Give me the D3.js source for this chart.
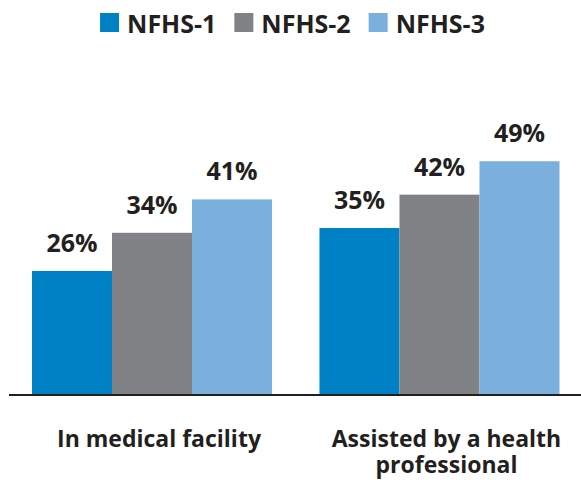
<!DOCTYPE html>
<html>
<head>
<meta charset="utf-8">
<script src="https://cdn.jsdelivr.net/npm/d3@7"></script>
<style>
  html, body { margin: 0; padding: 0; background: #fff; }
  svg { display: block; }
  text { font-family: "Open Sans", "Noto Sans", sans-serif; font-weight: 700; fill: #231f20; }
</style>
</head>
<body>
<svg id="chart" width="581" height="485"></svg>
<script>
const categories = ["In medical facility", "Assisted by a health professional"];
const categoryLines = [["In medical facility"], ["Assisted by a health", "professional"]];
const seriesNames = ["NFHS-1", "NFHS-2", "NFHS-3"];
const seriesColors = ["#0081c6", "#818285", "#7bafdd"];
const nfhs1 = [26, 35];
const nfhs2 = [34, 42];
const nfhs3 = [41, 49];
const seriesValues = [nfhs1, nfhs2, nfhs3];

const W = 581, H = 485;
const baseY = 395;
const svg = d3.select("#chart");

const x0 = d3.scaleBand().domain(categories).range([32, 559.5]).paddingInner(0.165).paddingOuter(0);
const x1 = d3.scaleBand().domain(seriesNames).range([0, x0.bandwidth()]).padding(0);
const y = d3.scaleLinear().domain([0, 82.8]).range([baseY, 0]);
const color = d3.scaleOrdinal().domain(seriesNames).range(seriesColors);

const rows = [];
categories.forEach((c, ci) => {
  seriesNames.forEach((s, si) => rows.push({cat: c, series: s, value: seriesValues[si][ci]}));
});

// bars
svg.append("g").selectAll("rect").data(rows).join("rect")
  .attr("x", d => x0(d.cat) + x1(d.series))
  .attr("y", d => y(d.value))
  .attr("width", x1.bandwidth())
  .attr("height", d => y(0) - y(d.value))
  .attr("fill", d => color(d.series));

// value labels
svg.append("g").selectAll("text").data(rows).join("text")
  .attr("x", d => x0(d.cat) + x1(d.series) + x1.bandwidth() / 2)
  .attr("y", d => y(d.value) - 19)
  .attr("text-anchor", "middle")
  .style("font-size", "25px")
  .text(d => d.value + "%");

// axis baseline
svg.append("line")
  .attr("x1", 9).attr("x2", W)
  .attr("y1", y(0)).attr("y2", y(0))
  .attr("stroke", "#231f20").attr("stroke-width", 1.8);

// category labels
const catG = svg.append("g");
categories.forEach((c, ci) => {
  const t = catG.append("text")
    .attr("text-anchor", "middle")
    .style("font-size", "23px");
  categoryLines[ci].forEach((line, li) => {
    t.append("tspan")
      .attr("x", x0(c) + x0.bandwidth() / 2 + 7)
      .attr("y", 447 + li * 26)
      .text(line);
  });
});

// legend
const leg = svg.append("g");
const items = seriesNames.map((s, i) => {
  const g = leg.append("g");
  g.append("rect").attr("width", 19).attr("height", 19).attr("y", 13).attr("fill", color(s));
  const t = g.append("text").attr("x", 27).attr("y", 33).style("font-size", "25px").text(s);
  return {g, w: 27 + t.node().getComputedTextLength()};
});
const gap = 18;
const total = d3.sum(items, d => d.w) + gap * (items.length - 1);
let cx = W / 2 + 2 - total / 2;
items.forEach(it => { it.g.attr("transform", `translate(${cx},0)`); cx += it.w + gap; });
</script>
</body>
</html>
